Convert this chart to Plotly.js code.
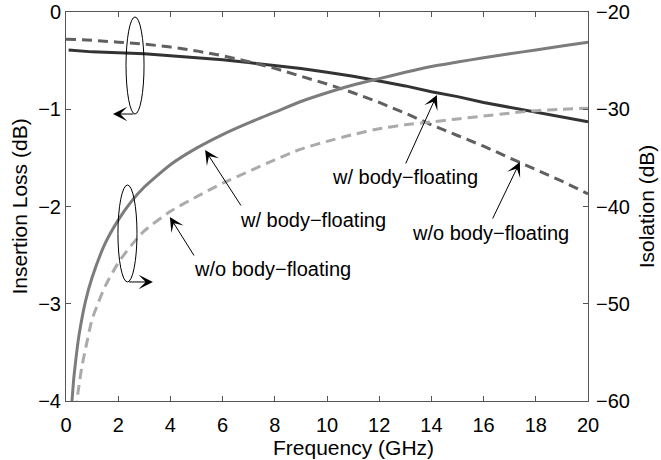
<!DOCTYPE html>
<html>
<head>
<meta charset="utf-8">
<script src="https://cdn.plot.ly/plotly-3.0.1.min.js"></script>
<style>html,body{margin:0;padding:0;background:#fff;}#chart{width:661px;height:460px;}</style>
</head>
<body>
<div id="chart"></div>
<script>
// Insertion loss (left axis, dB)
const freqILw = [0.1, 1, 2, 3, 4, 5, 6, 7, 8, 9, 10, 11, 12, 13, 14, 15, 16, 17, 18, 19, 20];
const ilWithBF = [-0.39, -0.41, -0.42, -0.43, -0.45, -0.47, -0.49, -0.52, -0.55, -0.58, -0.62, -0.66, -0.71, -0.76, -0.82, -0.87, -0.93, -0.98, -1.03, -1.08, -1.13];
const freqILwo = [0, 1, 2, 3, 4, 5, 6, 7, 8, 9, 10, 11, 12, 13, 14, 15, 16, 17, 18, 19, 20];
const ilWithoutBF = [-0.28, -0.29, -0.31, -0.33, -0.36, -0.40, -0.45, -0.51, -0.58, -0.66, -0.74, -0.83, -0.93, -1.04, -1.16, -1.27, -1.38, -1.50, -1.62, -1.74, -1.87];

// Isolation (right axis, dB)
const freqISOw = [0.2, 0.25, 0.3, 0.4, 0.5, 0.75, 1, 1.5, 2, 2.5, 3, 4, 5, 6, 7, 8, 9, 10, 11, 12, 13, 14, 15, 16, 17, 18, 19, 20];
const isoWithBF = [-61, -59.3, -57.6, -55.2, -53.2, -49.7, -47.3, -43.8, -41.4, -39.5, -38.0, -35.7, -34.0, -32.6, -31.4, -30.3, -29.2, -28.3, -27.5, -26.85, -26.2, -25.6, -25.15, -24.7, -24.3, -23.9, -23.5, -23.1];
const freqISOwo = [0.38, 0.45, 0.5, 0.6, 0.75, 1, 1.25, 1.5, 2, 2.5, 3, 4, 5, 6, 7, 8, 9, 10, 11, 12, 13, 14, 15, 16, 17, 18, 19, 20];
const isoWithoutBF = [-61, -59.3, -58.4, -56.6, -54.6, -51.6, -49.8, -48.2, -45.8, -44.0, -42.5, -40.5, -39.0, -37.6, -36.4, -35.2, -34.1, -33.3, -32.6, -32.0, -31.6, -31.3, -31.0, -30.7, -30.4, -30.15, -30.0, -29.9];

const xTickVals = [0, 2, 4, 6, 8, 10, 12, 14, 16, 18, 20];
const yLeftTicks = [0, -1, -2, -3, -4];
const yRightTicks = [-20, -30, -40, -50, -60];

const labelWith = 'w/ body\u2212floating';
const labelWithout = 'w/o body\u2212floating';

const FONT = 'Liberation Sans, Arial, Helvetica, sans-serif';
const AX = '#555';

const traces = [
  {x: freqILw, y: ilWithBF, name: 'IL ' + labelWith, mode: 'lines', line: {color: '#333333', width: 3}, yaxis: 'y'},
  {x: freqILwo, y: ilWithoutBF, name: 'IL ' + labelWithout, mode: 'lines', line: {color: '#606060', width: 3, dash: '10px,6px'}, yaxis: 'y'},
  {x: freqISOw, y: isoWithBF, name: 'Isolation ' + labelWith, mode: 'lines', line: {color: '#7c7c7c', width: 3, shape: 'spline', smoothing: 0.6}, yaxis: 'y2'},
  {x: freqISOwo, y: isoWithoutBF, name: 'Isolation ' + labelWithout, mode: 'lines', line: {color: '#ababab', width: 3, dash: '10px,6px', shape: 'spline', smoothing: 0.6}, yaxis: 'y2'}
];

function arrow(hx, hy, tx, ty) {
  return {x: hx, y: hy, ax: tx, ay: ty, xref: 'x', yref: 'y', axref: 'x', ayref: 'y',
    text: '', showarrow: true, arrowhead: 3, arrowsize: 2.4, arrowwidth: 1, arrowcolor: '#000', standoff: 0, startstandoff: 0};
}
function label(txt, x, y) {
  return {x: x, y: y, xref: 'x', yref: 'y', text: txt, showarrow: false,
    font: {family: FONT, size: 20, color: '#000'}, xanchor: 'center', yanchor: 'middle'};
}

const annotations = [
  arrow(1.80, -1.049, 2.64, -1.049),
  arrow(3.33, -2.776, 2.36, -2.776),
  label(labelWith, 9.46, -2.14),
  arrow(5.33, -1.42, 6.74, -2.005),
  label(labelWithout, 7.93, -2.64),
  arrow(3.98, -2.108, 4.94, -2.519),
  label(labelWith, 12.99, -1.70),
  arrow(14.21, -0.853, 12.99, -1.573),
  label(labelWithout, 16.28, -2.27),
  arrow(17.39, -1.542, 16.32, -2.139),
  {x: 0.5517, y: -0.12, xref: 'paper', yref: 'paper', text: 'Frequency (GHz)', showarrow: false,
    font: {family: FONT, size: 21, color: '#000'}, xanchor: 'center', yanchor: 'middle'}
];

const shapes = [
  {type: 'circle', xref: 'x', yref: 'y', x0: 2.30, x1: 2.99, y0: -0.051, y1: -1.049, line: {color: '#000', width: 1}},
  {type: 'circle', xref: 'x', yref: 'y', x0: 1.99, x1: 2.72, y0: -1.779, y1: -2.776, line: {color: '#000', width: 1}}
];

const layout = {
  width: 661, height: 460,
  margin: {l: 66, r: 73, t: 12, b: 59, pad: 0},
  paper_bgcolor: '#fff', plot_bgcolor: '#fff',
  showlegend: false,
  font: {family: FONT, size: 20, color: '#000'},
  xaxis: {
    range: [0, 20], tickvals: xTickVals, ticks: 'inside', ticklen: 5, tickcolor: AX,
    showline: true, linecolor: AX, linewidth: 1, mirror: 'ticks', ticklabelstandoff: 6,
    showgrid: false, zeroline: false, tickfont: {family: FONT, size: 20, color: '#000'}
  },
  yaxis: {
    range: [-4, 0], tickvals: yLeftTicks, ticks: 'inside', ticklen: 5, tickcolor: AX,
    showline: true, linecolor: AX, linewidth: 1,
    showgrid: false, zeroline: false, tickfont: {family: FONT, size: 20, color: '#000'},
    title: {text: 'Insertion Loss (dB)', font: {family: FONT, size: 21, color: '#000'}, standoff: 4}
  },
  yaxis2: {
    range: [-60, -20], tickvals: yRightTicks, overlaying: 'y', side: 'right',
    ticks: 'inside', ticklen: 5, tickcolor: AX,
    showline: true, linecolor: AX, linewidth: 1, ticklabelstandoff: 3,
    showgrid: false, zeroline: false, tickfont: {family: FONT, size: 20, color: '#000'},
    title: {text: 'Isolation (dB)', font: {family: FONT, size: 21, color: '#000'}, standoff: 10}
  },
  annotations: annotations,
  shapes: shapes
};

Plotly.newPlot('chart', traces, layout, {displayModeBar: false, staticPlot: true});
</script>
</body>
</html>
